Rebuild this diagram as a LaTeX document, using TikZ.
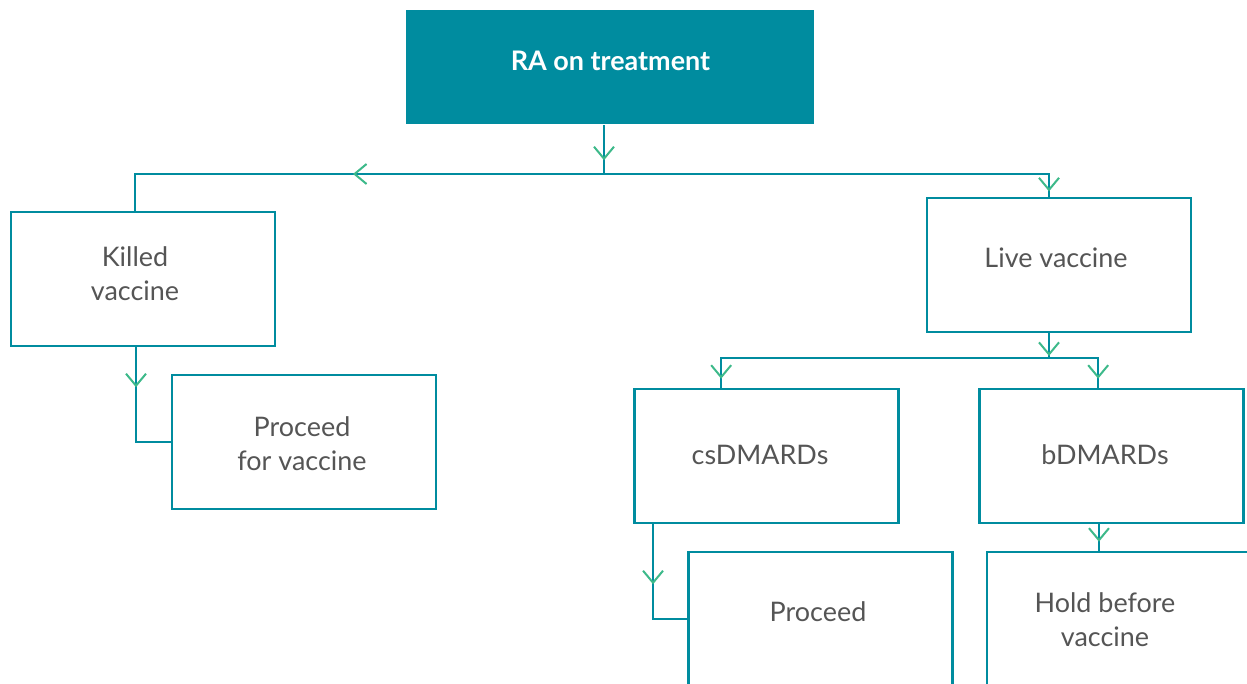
\documentclass[tikz,border=0pt]{standalone}
\usepackage{fontspec}
\setmainfont{Lato}
\usetikzlibrary{arrows.meta,decorations.markings}
\definecolor{teal1}{HTML}{008C9F}
\definecolor{arrgreen}{HTML}{3DB98A}
\definecolor{txtgray}{HTML}{555555}
\tikzset{
  box/.style={draw=teal1, line width=1.9pt, fill=white, minimum width=198pt,
    minimum height=100.5pt, inner sep=0pt},
  txtnode/.style={inner sep=0pt, align=center, text=txtgray,
    font=\fontsize{20.2}{25.5}\selectfont},
  conn/.style={draw=teal1, line width=1.9pt},
  arrowat/.style={postaction={decorate}, decoration={markings,
    mark=at position #1 with {\arrow[arrgreen, line width=1.5pt]{Straight Barb[length=9pt,width=15pt]}}}},
}
\begin{document}
\begin{tikzpicture}[x=0.75pt,y=-0.75pt]
\useasboundingbox (0,0) rectangle (1247,684);
\clip (0,0) rectangle (1247,684);
% boxes
\node[box, fill=teal1, draw=none, minimum width=306pt, minimum height=85.5pt] (top) at (610,67) {};
\node[box] (killed) at (143,279) {};
\node[box] (proceedv) at (304,442) {};
\node[box] (live) at (1059,265) {};
\node[box] (cs) at (766.5,456) {};
\node[box] (bd) at (1111.5,456) {};
\node[box] (proceed) at (820.5,619) {};
\node[box] (hold) at (1119,619) {};
% texts
\node[txtnode, text=white, font=\bfseries\fontsize{20.2}{25.5}\selectfont] (toptxt) at (610.5,61) {RA on treatment};
\node[txtnode] (killedtxt) at (135,274) {Killed\\vaccine};
\node[txtnode] (proceedvtxt) at (302,444) {Proceed\\for vaccine};
\node[txtnode] (livetxt) at (1056,258) {Live vaccine};
\node[txtnode] (cstxt) at (760,455) {csDMARDs};
\node[txtnode] (bdtxt) at (1105,455) {bDMARDs};
\node[txtnode] (proceedtxt) at (818,612) {Proceed};
\node[txtnode] (holdtxt) at (1105,620) {Hold before\\vaccine};
% junctions
\coordinate (j1) at (604,174);
\coordinate (j2) at (1049,358);
% connectors
\draw[conn, arrowat=26.25pt] (top.south -| j1) -- (j1);
\draw[conn, arrowat=188.25pt] (j1) -| ([xshift=-6pt]killed.north);
\draw[conn, arrowat=-4pt] (j1) -| ([xshift=-7.5pt]live.north);
\draw[conn, arrowat=30pt] ([xshift=-5.25pt]killed.south) |- (proceedv.west);
\draw[conn, arrowat=17pt] (live.south -| j2) -- (j2);
\draw[conn, arrowat=-6.75pt] (j2) -| ([xshift=-34pt]cs.north);
\draw[conn, arrowat=-6.75pt] (j2) -| ([xshift=-10pt]bd.north);
\draw[conn, arrowat=45pt] ([xshift=-85.1pt]cs.south) |- (proceed.west);
\draw[conn, arrowat=-6.75pt] ([xshift=-9.4pt]bd.south) -- ([xshift=-9.4pt]bd.south |- hold.north);
\end{tikzpicture}
\end{document}
